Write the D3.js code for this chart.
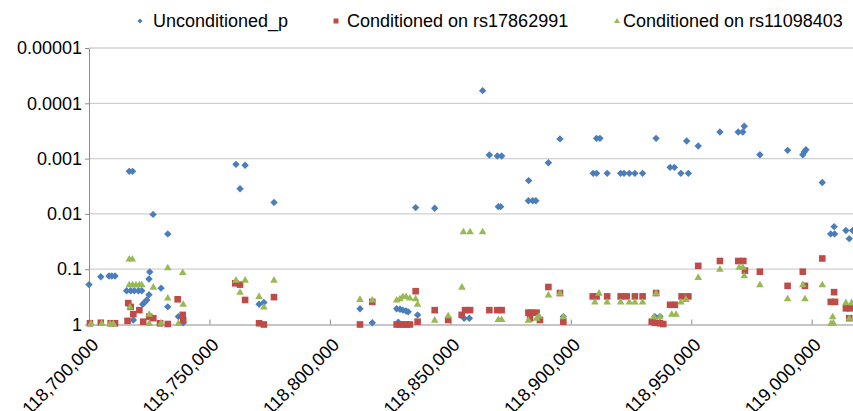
<!DOCTYPE html>
<html>
<head>
<meta charset="utf-8">
<script src="https://cdn.jsdelivr.net/npm/d3@7"></script>
<style>
  html, body { margin: 0; padding: 0; background: #fff; }
  svg { display: block; font-family: "Liberation Sans", Arial, Helvetica, sans-serif; }
</style>
</head>
<body>
<svg id="chart" width="853" height="411"></svg>
<script>
// Axis ticks
const xTickValues = [118700000, 118750000, 118800000, 118850000, 118900000, 118950000, 119000000];
const xTickLabels = ["118,700,000", "118,750,000", "118,800,000", "118,850,000", "118,900,000", "118,950,000", "119,000,000"];
const yTickValues = [1, 0.1, 0.01, 0.001, 0.0001, 0.00001];
const yTickLabels = ["1", "0.1", "0.01", "0.001", "0.0001", "0.00001"];

// Series names
const seriesNames = ["Unconditioned_p", "Conditioned on rs17862991", "Conditioned on rs11098403"];

// Unconditioned association p-values
const unconditionedPos = [
  118700000, 118704900, 118708300, 118709500, 118710800, 118716700, 118718100, 118726600, 118732700, 118725200,
  118724900, 118715600, 118717300, 118718800, 118720500, 118721900, 118729900, 118724900, 118724000, 118723000,
  118722300, 118732700, 118718400, 118737100, 118739100, 118761000, 118764800, 118762700, 118776800, 118770600,
  118772600, 118812500, 118817600, 118827700, 118829100, 118830300, 118831600, 118832500, 118828400, 118835600,
  118836400, 118843500, 118855700, 118857900, 118863400, 118866200, 118869500, 118871300, 118869900, 118870900,
  118882400, 118884200, 118885500, 118882500, 118890700, 118895500, 118896900, 118909300, 118910700, 118915100,
  118910700, 118912100, 118920700, 118922100, 118924300, 118926600, 118929800, 118935400, 118934900, 118937000,
  118941200, 118943000, 118945700, 118948800, 118948100, 118952900, 118961900, 118969500, 118971400, 118972000,
  118978500, 118990000, 118996300, 118996900, 118997600, 119004400, 119009300, 119007900, 119009500, 119014200,
  119015600, 119017000
];
const unconditionedP = [
  0.19, 0.137, 0.133, 0.133, 0.133, 0.0017, 0.0017, 0.0102, 0.023, 0.112,
  0.15, 0.245, 0.245, 0.245, 0.245, 0.245, 0.22, 0.29, 0.36, 0.40,
  0.43, 0.48, 0.83, 0.72, 0.93, 0.00127, 0.00132, 0.0035, 0.0062, 0.43,
  0.40, 0.52, 0.93, 0.52, 0.53, 0.55, 0.57, 0.59, 0.91, 0.0077,
  0.67, 0.0079, 0.77, 0.77, 0.000059, 0.00086, 0.00090, 0.00090, 0.0074, 0.0074,
  0.0058, 0.0058, 0.0058, 0.0025, 0.00119, 0.00044, 0.72, 0.00185, 0.00185, 0.00185,
  0.00043, 0.00043, 0.00185, 0.00185, 0.00185, 0.00185, 0.00185, 0.00043, 0.72, 0.72,
  0.00144, 0.00144, 0.00185, 0.00185, 0.00048, 0.00059, 0.00033, 0.00033, 0.00033, 0.00026,
  0.00085, 0.00071, 0.00085, 0.00076, 0.00069, 0.0027, 0.017, 0.023, 0.023, 0.020,
  0.028, 0.020
];

// Conditioned on rs17862991
const condAPos = [
  118700400, 118704900, 118709000, 118710800, 118716300, 118717300, 118718400, 118720900, 118716000, 118722500,
  118725000, 118726700, 118729500, 118732700, 118736800, 118738900, 118739100, 118760700, 118762700, 118764800,
  118776800, 118770600, 118772600, 118812500, 118817600, 118827700, 118829100, 118830500, 118831900, 118833200,
  118835600, 118836400, 118843500, 118849100, 118854700, 118856100, 118858200, 118866200, 118869500, 118871300,
  118882400, 118883800, 118885800, 118883100, 118887200, 118890700, 118895500, 118896900, 118909100, 118910700,
  118915100, 118920700, 118923200, 118926600, 118929800, 118935400, 118933600, 118934900, 118937000, 118938400,
  118941200, 118943200, 118946000, 118948800, 118952900, 118961900, 118969500, 118971600, 118972300, 118978500,
  118990000, 118996300, 118997200, 119004400, 119009300, 119007900, 119009700, 119014200, 119015900, 119015600
];
const condAP = [
  0.95, 0.93, 0.95, 0.95, 0.41, 0.48, 0.65, 0.55, 0.86, 0.89,
  0.72, 0.77, 0.95, 0.98, 0.35, 0.67, 0.83, 0.18, 0.19, 0.36,
  0.32, 0.95, 1.0, 1.0, 0.39, 1.0, 1.0, 1.0, 1.0, 1.0,
  0.25, 0.89, 0.55, 0.83, 0.67, 0.55, 0.55, 0.55, 0.55, 0.55,
  0.61, 0.61, 0.61, 0.77, 0.83, 0.21, 0.27, 0.89, 0.31, 0.31,
  0.31, 0.31, 0.31, 0.31, 0.31, 0.27, 0.89, 0.93, 0.95, 0.98,
  0.44, 0.44, 0.31, 0.31, 0.087, 0.071, 0.071, 0.071, 0.106, 0.111,
  0.20, 0.111, 0.20, 0.064, 0.26, 0.39, 0.39, 0.51, 0.51, 0.77
];

// Conditioned on rs11098403
const condBPos = [
  118700800, 118705300, 118708700, 118710100, 118716700, 118718000, 118716700, 118718100, 118719500, 118720900,
  118721900, 118726700, 118732700, 118738900, 118732700, 118717000, 118739100, 118725000, 118725000, 118729900,
  118737100, 118761000, 118764800, 118762700, 118770600, 118772600, 118776800, 118812500, 118817600, 118827700,
  118829100, 118830300, 118831600, 118833200, 118835600, 118836400, 118843500, 118849100, 118854800, 118855400,
  118858200, 118863400, 118869900, 118871300, 118882400, 118885800, 118886800, 118890700, 118895500, 118896900,
  118910000, 118911700, 118915100, 118920700, 118924300, 118926600, 118929800, 118935400, 118934500, 118937000,
  118941900, 118943700, 118945700, 118947800, 118952900, 118961900, 118969900, 118971400, 118972000, 118978500,
  118990000, 118996300, 118997200, 119004400, 119008700, 119009000, 119008000, 119014200, 119016600, 119015600
];
const condBP = [
  0.95, 0.95, 0.96, 0.96, 0.065, 0.065, 0.19, 0.19, 0.19, 0.19,
  0.19, 0.21, 0.094, 0.114, 0.33, 0.48, 0.43, 0.65, 0.95, 0.93,
  0.95, 0.157, 0.157, 0.26, 0.31, 0.48, 0.157, 0.35, 0.36, 0.36,
  0.34, 0.31, 0.31, 0.33, 0.34, 0.43, 0.83, 0.69, 0.21, 0.021,
  0.021, 0.021, 0.81, 0.81, 0.83, 0.77, 0.70, 0.29, 0.27, 0.72,
  0.39, 0.27, 0.39, 0.39, 0.39, 0.39, 0.39, 0.27, 0.72, 0.72,
  0.65, 0.65, 0.39, 0.35, 0.14, 0.10, 0.092, 0.092, 0.131, 0.19,
  0.34, 0.19, 0.34, 0.19, 0.72, 0.93, 0.95, 0.40, 0.40, 0.77
];

const colors = ["#4a7ebb", "#be4b48", "#98b954"];

const svg = d3.select("#chart");
const W = 853;
const plotLeft = 89, plotTop = 48, plotBottom = 324.5;
const pxPerStep = 120.45; // width of one 50 kb step

const x = d3.scaleLinear()
  .domain([118700000, 119020000])
  .range([plotLeft, plotLeft + pxPerStep * 6.4]);
const y = d3.scaleLog()
  .domain([1, 0.00001])
  .range([plotBottom, plotTop]);

// Horizontal gridlines
svg.append("g")
  .selectAll("line")
  .data(yTickValues.slice(1))
  .join("line")
  .attr("x1", plotLeft)
  .attr("x2", W)
  .attr("y1", d => y(d))
  .attr("y2", d => y(d))
  .attr("stroke", "#d0d0d0")
  .attr("stroke-width", 1.3);

// Y axis
const yAxis = svg.append("g")
  .attr("transform", `translate(${plotLeft},0)`)
  .call(d3.axisLeft(y)
    .tickValues(yTickValues)
    .tickFormat((d, i) => yTickLabels[i])
    .tickSizeInner(4)
    .tickSizeOuter(0)
    .tickPadding(3));
yAxis.select(".domain").attr("stroke", "#8c8c8c");
yAxis.selectAll(".tick line").attr("stroke", "#8c8c8c");
yAxis.selectAll(".tick text").attr("font-size", 18).attr("fill", "#000");

// X axis
const xAxis = svg.append("g")
  .attr("transform", `translate(0,${plotBottom})`)
  .call(d3.axisBottom(x)
    .tickValues(xTickValues)
    .tickFormat((d, i) => xTickLabels[i])
    .tickSizeInner(-5)
    .tickSizeOuter(0));
xAxis.select(".domain").attr("stroke", "#8c8c8c");
xAxis.selectAll(".tick line").attr("stroke", "#8c8c8c");
xAxis.selectAll(".tick text")
  .attr("font-size", 18)
  .attr("fill", "#000")
  .attr("x", 0)
  .attr("y", 0)
  .attr("dy", 0)
  .attr("text-anchor", "end")
  .attr("transform", "translate(10,21.5) rotate(-45)");

// Marker shapes
const diamond = r => `M0,${-r}L${r},0L0,${r}L${-r},0Z`;
const square = s => `M${-s / 2},${-s / 2}h${s}v${s}h${-s}Z`;
const triangle = (w, h) => `M0,${-h * 0.6}L${w / 2},${h * 0.4}L${-w / 2},${h * 0.4}Z`;

const series = [
  { pos: unconditionedPos, p: unconditionedP, shape: diamond(3.7) },
  { pos: condAPos, p: condAP, shape: square(6.6) },
  { pos: condBPos, p: condBP, shape: triangle(7.6, 6.6) }
];

const plot = svg.append("g");
series.forEach((s, k) => {
  plot.append("g")
    .selectAll("path")
    .data(s.pos.map((d, i) => [d, s.p[i]]))
    .join("path")
    .attr("transform", d => `translate(${x(d[0])},${y(d[1])})`)
    .attr("d", s.shape)
    .attr("fill", colors[k]);
});

// Legend
const legendItems = [
  { mx: 140, tx: 153, shape: diamond(2.6) },
  { mx: 336, tx: 347, shape: square(5) },
  { mx: 617, tx: 623, shape: triangle(6, 5.2) }
];
const legend = svg.append("g");
legendItems.forEach((it, k) => {
  legend.append("path")
    .attr("transform", `translate(${it.mx},21)`)
    .attr("d", it.shape)
    .attr("fill", colors[k]);
  legend.append("text")
    .attr("x", it.tx)
    .attr("y", 27)
    .attr("font-size", 18)
    .attr("fill", "#000")
    .text(seriesNames[k]);
});
</script>
</body>
</html>
